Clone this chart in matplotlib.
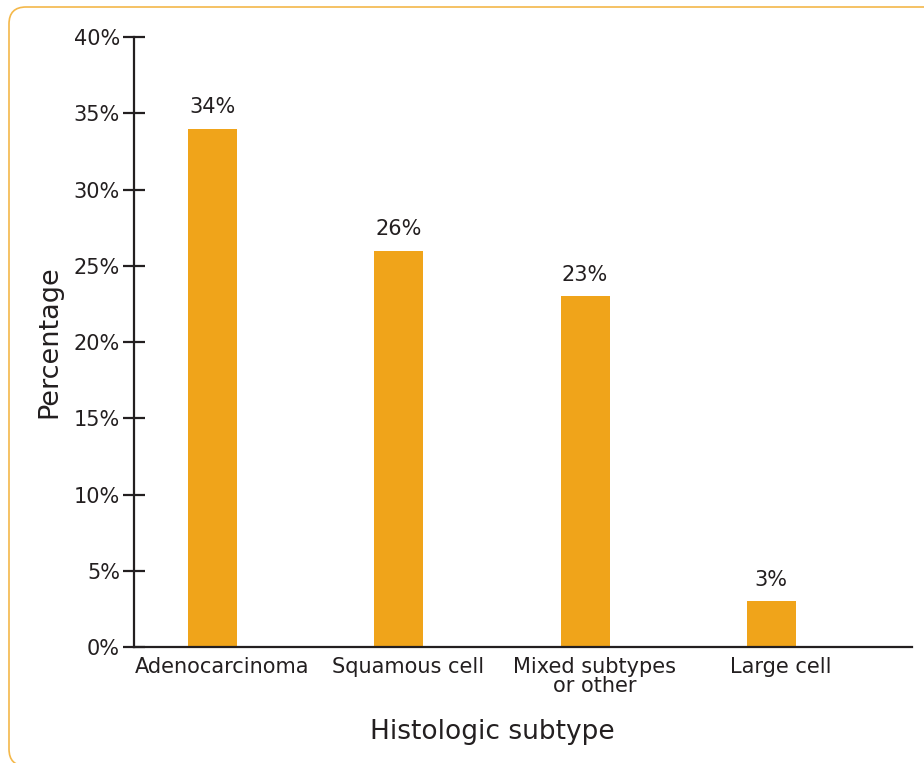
import matplotlib.pyplot as plt
from matplotlib.patches import FancyBboxPatch
from matplotlib.ticker import PercentFormatter

categories = ["Adenocarcinoma", "Squamous cell", "Mixed subtypes\nor other", "Large cell"]
percentages = [34, 26, 23, 3]
yticks = [0, 5, 10, 15, 20, 25, 30, 35, 40]

bar_color = "#F0A41A"
text_color = "#231F20"
plt.rcParams["font.family"] = ["DejaVu Sans"]

fig = plt.figure(figsize=(9.24, 7.63), dpi=100)
ax = fig.add_axes([0.145, 0.152, 0.842, 0.7995])

# rounded frame around the card, cut off at the right and bottom edges
frame = FancyBboxPatch((0.09, -0.03), 10, 7.59, boxstyle="round,pad=0,rounding_size=0.17",
                       transform=fig.dpi_scale_trans, facecolor="none", edgecolor="#F4B84A",
                       linewidth=1.2, clip_on=False)
fig.patches.append(frame)

x = range(len(categories))
bars = ax.bar(x, percentages, width=0.263, color=bar_color)
for b, v in zip(bars, percentages):
    ax.annotate(f"{v}%", (b.get_x() + b.get_width() / 2, v), xytext=(0, 8),
                textcoords="offset points", ha="center", va="bottom",
                fontsize=15, color=text_color)

ax.set_xlim(-0.421, 3.755)
ax.set_ylim(0, 40)
ax.set_yticks(yticks)
ax.yaxis.set_major_formatter(PercentFormatter(decimals=0))
ax.set_xticks(list(x))
ax.set_xticklabels([])

# category labels sit a little right of the bar centres in the original
for i, cat in zip(x, categories):
    ax.annotate(cat, (i, 0), xycoords=("data", "axes fraction"), xytext=(7, -7),
                textcoords="offset points", ha="center", va="top", fontsize=15,
                color=text_color, linespacing=0.95, annotation_clip=False)

for s in ["top", "right"]:
    ax.spines[s].set_visible(False)
for s in ["left", "bottom"]:
    ax.spines[s].set_linewidth(1.6)
    ax.spines[s].set_color(text_color)

ax.tick_params(axis="y", direction="inout", length=16, width=1.6, color=text_color,
               labelsize=15, labelcolor=text_color, pad=2)
ax.tick_params(axis="x", length=0)

ax.set_ylabel("Percentage", fontsize=19.5, color=text_color, labelpad=8)
ax.set_xlabel("Histologic subtype", fontsize=19, color=text_color, labelpad=48, x=0.46)

fig.savefig("out.png", dpi=100)
